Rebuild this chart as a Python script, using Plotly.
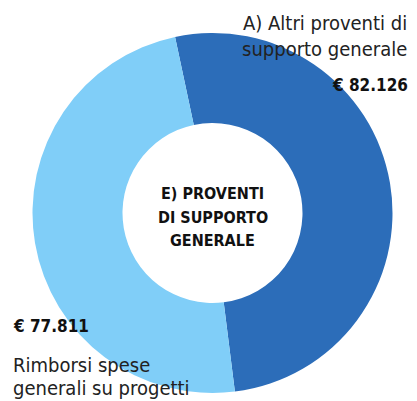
import plotly.graph_objects as go

labels = ["A) Altri proventi di supporto generale", "Rimborsi spese generali su progetti"]
values = [82126, 77811]
value_texts = ["€ 82.126", "€ 77.811"]
colors = ["#2C6DB9", "#80CEF8"]
label_lines_a = ["A) Altri proventi di", "supporto generale"]
label_lines_b = ["Rimborsi spese", "generali su progetti"]
center_lines = ["E) PROVENTI", "DI SUPPORTO", "GENERALE"]

W, H = 417, 401
cx, cy, R = 212.5, 213, 180

FONT = "DejaVu Sans Condensed, Liberation Sans Narrow, sans-serif"

fig = go.Figure(go.Pie(
    labels=labels,
    values=values,
    hole=0.5,
    sort=False,
    direction="clockwise",
    rotation=-12,
    marker=dict(colors=colors, line=dict(width=0)),
    textinfo="none",
    hoverinfo="label+value",
    showlegend=False,
    domain=dict(x=[(cx - R) / W, (cx + R) / W], y=[(H - cy - R) / H, (H - cy + R) / H]),
))


def py(y):
    return 1 - y / H


ann = []
for txt, yc in zip(label_lines_a, [23, 49]):
    ann.append(dict(text=txt, x=409 / W, y=py(yc), xanchor="right", yanchor="middle",
                    showarrow=False, font=dict(family=FONT, size=20, color="#222")))
ann.append(dict(text="<b>" + value_texts[0] + "</b>", x=410 / W, y=py(85),
                xanchor="right", yanchor="middle", showarrow=False,
                font=dict(family=FONT, size=17, color="#111")))
ann.append(dict(text="<b>" + value_texts[1] + "</b>", x=11 / W, y=py(326),
                xanchor="left", yanchor="middle", showarrow=False,
                font=dict(family=FONT, size=17, color="#111")))
for txt, yc in zip(label_lines_b, [365, 388]):
    ann.append(dict(text=txt, x=11 / W, y=py(yc), xanchor="left", yanchor="middle",
                    showarrow=False, font=dict(family=FONT, size=20, color="#222")))
for txt, yc in zip(center_lines, [193, 217, 240]):
    ann.append(dict(text="<b>" + txt + "</b>", x=cx / W, y=py(yc), xanchor="center",
                    yanchor="middle", showarrow=False,
                    font=dict(family=FONT, size=16, color="#111")))

fig.update_layout(
    width=W, height=H,
    margin=dict(l=0, r=0, t=0, b=0),
    paper_bgcolor="white", plot_bgcolor="white",
    annotations=ann,
)

fig.write_html("out.html", config={"displayModeBar": False},
               post_script="document.body.style.margin='0';")
